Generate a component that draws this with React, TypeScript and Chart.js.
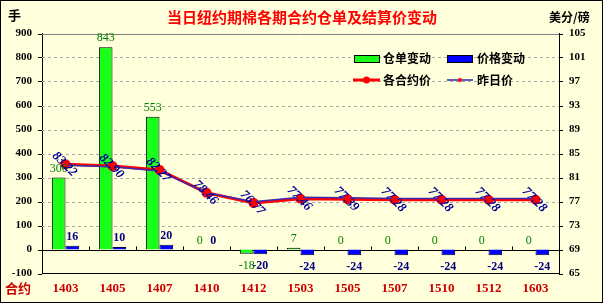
import React, { useEffect, useRef } from 'react';
import { Chart, registerables } from 'chart.js';
Chart.register(...registerables);

const categories = ['1403', '1405', '1407', '1410', '1412', '1503', '1505', '1507', '1510', '1512', '1603'];
const warrantChange = [300, 843, 553, 0, -18, 7, 0, 0, 0, 0, 0];
const priceChange = [16, 10, 20, 0, -20, -24, -24, -24, -24, -24, -24];
const settlePrice = [83.22, 82.9, 82.27, 78.46, 76.77, 77.46, 77.39, 77.28, 77.28, 77.28, 77.28];
const prevPrice = [83.06, 82.8, 82.07, 78.46, 76.97, 77.7, 77.63, 77.52, 77.52, 77.52, 77.52];
const leftTicks = [-100, 0, 100, 200, 300, 400, 500, 600, 700, 800, 900];

const TITLE = '当日纽约期棉各期合约仓单及结算价变动';
const CJK = '"Noto Sans CJK SC", sans-serif';
const NUM = '"Liberation Serif", serif';

const decor = {
  id: 'decor',
  beforeDraw(chart: any) {
    const { ctx, width, height } = chart;
    ctx.save();
    ctx.fillStyle = '#FFFFDC';
    ctx.fillRect(0, 0, width, height);
    ctx.strokeStyle = '#000';
    ctx.lineWidth = 1;
    ctx.strokeRect(0.5, 0.5, width - 1, height - 1);
    ctx.restore();
  },
  beforeDatasetsDraw(chart: any) {
    const { ctx, chartArea } = chart;
    const y = chart.scales.y;
    ctx.save();
    ctx.lineWidth = 1;
    leftTicks.forEach((v) => {
      const py = Math.round(y.getPixelForValue(v)) + 0.5;
      if (v === -100) return;
      ctx.beginPath();
      if (v === 0) {
        ctx.setLineDash([]);
        ctx.strokeStyle = '#000';
      } else if (v === 900) {
        ctx.setLineDash([]);
        ctx.strokeStyle = '#808080';
      } else {
        ctx.setLineDash([3, 3]);
        ctx.strokeStyle = '#A8A8A8';
      }
      ctx.moveTo(chartArea.left, py);
      ctx.lineTo(chartArea.right, py);
      ctx.stroke();
    });
    ctx.setLineDash([]);
    ctx.strokeStyle = '#000';
    leftTicks.forEach((v) => {
      const py = Math.round(y.getPixelForValue(v)) + 0.5;
      ctx.beginPath();
      ctx.moveTo(chartArea.left - 4, py);
      ctx.lineTo(chartArea.left, py);
      ctx.moveTo(chartArea.right, py);
      ctx.lineTo(chartArea.right + 4, py);
      ctx.stroke();
    });
    const y0 = Math.round(y.getPixelForValue(0)) + 0.5;
    const step = (chartArea.right - chartArea.left) / categories.length;
    for (let i = 1; i < categories.length; i++) {
      const px = Math.round(chartArea.left + i * step) + 0.5;
      ctx.beginPath();
      ctx.moveTo(px, y0 - 4);
      ctx.lineTo(px, y0);
      ctx.stroke();
    }
    ctx.restore();
  },
  afterDatasetsDraw(chart: any) {
    const { ctx } = chart;
    ctx.save();
    const m0 = chart.getDatasetMeta(0);
    const m1 = chart.getDatasetMeta(1);
    ctx.textAlign = 'center';
    ctx.textBaseline = 'middle';
    m0.data.forEach((el: any, i: number) => {
      const v = warrantChange[i];
      ctx.fillStyle = '#008000';
      ctx.font = `12px ${NUM}`;
      const yy = v >= 0 ? el.y - 9 : el.y + 12;
      ctx.fillText(String(v), el.x, yy);
    });
    m1.data.forEach((el: any, i: number) => {
      const v = priceChange[i];
      ctx.fillStyle = '#000080';
      ctx.font = `bold 12px ${NUM}`;
      const yy = v >= 0 ? el.y - 9 : el.y + 12;
      ctx.fillText(String(v), el.x, yy);
    });
    const m2 = chart.getDatasetMeta(2);
    ctx.fillStyle = '#000099';
    ctx.font = `bold italic 13px ${NUM}`;
    m2.data.forEach((el: any, i: number) => {
      ctx.save();
      ctx.translate(el.x - 1, el.y);
      ctx.rotate(Math.PI / 4);
      ctx.fillText(settlePrice[i].toFixed(2), 0, 0);
      ctx.restore();
    });
    ctx.restore();
  },
  afterDraw(chart: any) {
    const { ctx } = chart;
    ctx.save();
    ctx.textBaseline = 'middle';
    ctx.textAlign = 'center';
    ctx.fillStyle = '#FF0000';
    ctx.font = `bold 15px ${CJK}`;
    ctx.fillText(TITLE, 302, 17);
    ctx.fillStyle = '#000';
    ctx.font = `bold 13px ${CJK}`;
    ctx.textAlign = 'left';
    ctx.fillText('手', 8, 15);
    ctx.font = `bold 12px ${CJK}`;
    ctx.fillText('美分/磅', 549, 17);
    ctx.fillStyle = '#CC0000';
    ctx.font = `bold 13px ${CJK}`;
    ctx.fillText('合约', 5, 288);

    ctx.fillStyle = '#000';
    ctx.font = `bold 12px ${CJK}`;
    ctx.fillText('仓单变动', 383, 58);
    ctx.fillText('价格变动', 477, 58);
    ctx.fillText('各合约价', 383, 80);
    ctx.fillText('昨日价', 477, 80);
    ctx.lineWidth = 1;
    ctx.strokeStyle = '#000';
    ctx.fillStyle = '#1AFF1A';
    ctx.fillRect(354, 55, 25, 7);
    ctx.strokeRect(354.5, 55.5, 25, 7);
    ctx.fillStyle = '#0000FF';
    ctx.fillRect(447, 55, 25, 7);
    ctx.strokeRect(447.5, 55.5, 25, 7);
    ctx.strokeStyle = '#FF0000';
    ctx.lineWidth = 3;
    ctx.beginPath();
    ctx.moveTo(353, 80);
    ctx.lineTo(380, 80);
    ctx.stroke();
    ctx.fillStyle = '#FF0000';
    ctx.beginPath();
    ctx.arc(366.5, 80, 3.5, 0, Math.PI * 2);
    ctx.fill();
    ctx.strokeStyle = '#2A2AB0';
    ctx.lineWidth = 1.5;
    ctx.beginPath();
    ctx.moveTo(447, 80);
    ctx.lineTo(473, 80);
    ctx.stroke();
    ctx.beginPath();
    ctx.arc(460, 80, 2, 0, Math.PI * 2);
    ctx.fill();
    ctx.restore();
  },
};

export default function App() {
  const ref = useRef<HTMLCanvasElement>(null);
  useEffect(() => {
    document.body.style.margin = '0';
    const canvas = ref.current!;
    const tickFont = { family: '"Liberation Serif", serif', size: 11, weight: 'bold' as const };
    const chart = new Chart(canvas, {
      type: 'bar',
      data: {
        labels: categories,
        datasets: [
          {
            type: 'bar',
            label: '仓单变动',
            data: warrantChange,
            yAxisID: 'y',
            backgroundColor: '#1AFF1A',
            borderColor: '#000',
            borderWidth: 1,
            categoryPercentage: 0.58,
            barPercentage: 1,
            order: 3,
          } as any,
          {
            type: 'bar',
            label: '价格变动',
            data: priceChange,
            yAxisID: 'y',
            backgroundColor: '#0000FF',
            borderColor: '#000040',
            borderWidth: 1,
            categoryPercentage: 0.58,
            barPercentage: 1,
            order: 3,
          } as any,
          {
            type: 'line',
            label: '各合约价',
            data: settlePrice,
            yAxisID: 'y1',
            borderColor: '#FF0000',
            backgroundColor: '#FF0000',
            borderWidth: 3,
            pointRadius: 3.5,
            pointBackgroundColor: '#FF0000',
            pointBorderColor: '#FF0000',
            tension: 0,
            order: 2,
          } as any,
          {
            type: 'line',
            label: '昨日价',
            data: prevPrice,
            yAxisID: 'y1',
            borderColor: '#3A2AB0',
            backgroundColor: '#FF0000',
            borderWidth: 1.5,
            pointRadius: 2,
            pointBackgroundColor: '#FF0000',
            pointBorderColor: '#FF0000',
            tension: 0,
            order: 1,
          } as any,
        ],
      },
      options: {
        responsive: false,
        devicePixelRatio: 1,
        animation: false,
        layout: { padding: { top: 33.5, left: 0, right: 0, bottom: 0 } },
        plugins: {
          legend: { display: false },
          tooltip: { enabled: false },
          title: { display: false },
        },
        scales: {
          x: {
            grid: { display: false, drawTicks: false },
            border: { display: true, color: '#000', width: 1 },
            ticks: {
              color: '#CC0000',
              font: { family: '"Liberation Serif", serif', size: 13, weight: 'bold' },
              padding: 7,
              maxRotation: 0,
              autoSkip: false,
            },
            afterFit: (s: any) => {
              s.height = 29.5;
            },
          },
          y: {
            position: 'left',
            min: -100,
            max: 900,
            grid: { display: false, drawTicks: false },
            border: { display: true, color: '#000', width: 1 },
            ticks: { stepSize: 100, color: '#000', font: tickFont, padding: 10 },
            afterFit: (s: any) => {
              s.width = 42;
            },
          },
          y1: {
            position: 'right',
            min: 65,
            max: 105,
            grid: { display: false, drawTicks: false },
            border: { display: true, color: '#000', width: 1 },
            ticks: { stepSize: 4, color: '#000', font: tickFont, padding: 10 },
            afterFit: (s: any) => {
              s.width = 44;
            },
          },
        },
      } as any,
      plugins: [decor],
    });
    return () => chart.destroy();
  }, []);
  return (
    <canvas
      ref={ref}
      width={603}
      height={303}
      style={{ display: 'block', width: 603, height: 303 }}
    />
  );
}
